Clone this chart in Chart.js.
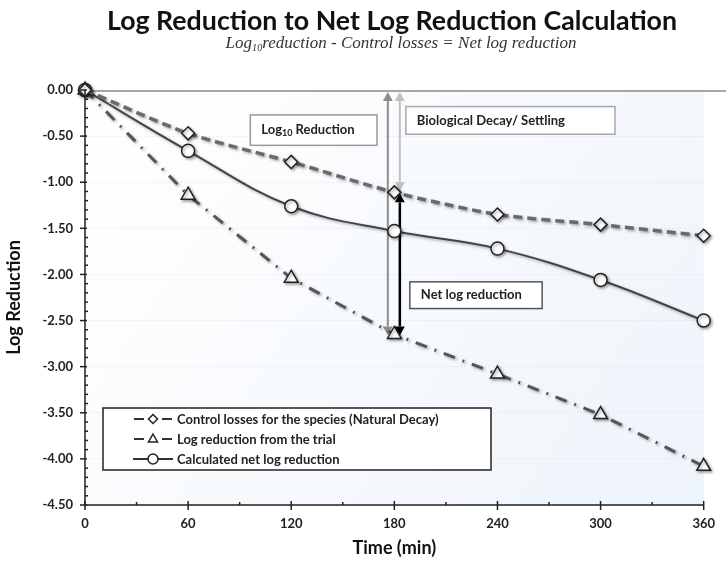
<!DOCTYPE html>
<html><head><meta charset="utf-8">
<script src="https://cdn.jsdelivr.net/npm/chart.js@4"></script>
<style>html,body{margin:0;padding:0;background:#fff}#wrap{width:726px;height:562px}</style>
</head><body><div id="wrap"><canvas id="c" width="726" height="562"></canvas></div>
<script>
// ---- data ----
const times = [0, 60, 120, 180, 240, 300, 360];
const controlLosses = [0, -0.47, -0.78, -1.11, -1.35, -1.46, -1.58];
const trialReduction = [0, -1.14, -2.04, -2.65, -3.08, -3.52, -4.08];
const netReduction = [0, -0.66, -1.26, -1.53, -1.72, -2.06, -2.50];
const xTickValues = [0, 60, 120, 180, 240, 300, 360];
const yTickValues = [0, -0.5, -1, -1.5, -2, -2.5, -3, -3.5, -4, -4.5];
const seriesLabels = ['Control losses for the species (Natural Decay)', 'Log reduction from the trial', 'Calculated net log reduction'];
const titleText = 'Log Reduction to Net Log Reduction Calculation';
const xTitle = 'Time (min)';
const yTitle = 'Log Reduction';

const FONT = 'Lato, "Open Sans", sans-serif';
const toPts = ys => times.map((t, i) => ({x: t, y: ys[i]}));

function fitFont(ctx, text, style, family, start, target) {
  let s = start;
  for (; s > 6; s -= 0.25) {
    ctx.font = style + ' ' + s + 'px ' + family;
    if (ctx.measureText(text).width <= target) break;
  }
  return ctx.font;
}

function arrow(ctx, x, y1, y2, color, w, head) {
  ctx.save();
  ctx.strokeStyle = color; ctx.fillStyle = color; ctx.lineWidth = w;
  ctx.beginPath(); ctx.moveTo(x, y1 + head); ctx.lineTo(x, y2 - head); ctx.stroke();
  ctx.beginPath(); ctx.moveTo(x, y1); ctx.lineTo(x - head * 0.55, y1 + head); ctx.lineTo(x + head * 0.55, y1 + head); ctx.closePath(); ctx.fill();
  ctx.beginPath(); ctx.moveTo(x, y2); ctx.lineTo(x - head * 0.55, y2 - head); ctx.lineTo(x + head * 0.55, y2 - head); ctx.closePath(); ctx.fill();
  ctx.restore();
}

function labelBox(ctx, xs, ys, x0, x1, y0, y1, border, parts) {
  const L = xs.getPixelForValue(x0), R = xs.getPixelForValue(x1);
  const T = ys.getPixelForValue(y0), B = ys.getPixelForValue(y1);
  ctx.save();
  ctx.fillStyle = '#fff'; ctx.fillRect(L, T, R - L, B - T);
  ctx.strokeStyle = border; ctx.lineWidth = 1.5; ctx.strokeRect(L, T, R - L, B - T);
  let cx = L + 11; const cy = (T + B) / 2;
  ctx.fillStyle = '#222'; ctx.textBaseline = 'middle'; ctx.textAlign = 'left';
  parts.forEach(p => {
    ctx.font = 'bold ' + (p.sub ? 9 : 13) + 'px ' + FONT;
    ctx.fillText(p.t, cx, cy + (p.sub ? 3 : 0));
    cx += ctx.measureText(p.t).width;
  });
  ctx.restore();
}

const decor = {
  id: 'decor',
  beforeDraw(chart) {
    const {ctx, chartArea: a} = chart;
    const g = ctx.createLinearGradient(a.left, a.top, a.right, a.bottom);
    g.addColorStop(0, '#ffffff'); g.addColorStop(1, '#eef4fb');
    ctx.save(); ctx.fillStyle = g; ctx.fillRect(a.left, a.top, a.right - a.left, a.bottom - a.top); ctx.restore();
  },
  beforeDatasetsDraw(chart) {
    const {ctx, chartArea: a} = chart;
    const xs = chart.scales.x, ys = chart.scales.y;
    // top frame line
    ctx.save(); ctx.strokeStyle = '#8a8a8a'; ctx.lineWidth = 1.5;
    ctx.beginPath(); ctx.moveTo(a.left, a.top + 1); ctx.lineTo(chart.width, a.top + 1); ctx.stroke(); ctx.restore();
    // arrows (in data units)
    const yTop = ys.getPixelForValue(0) + 2;
    arrow(ctx, xs.getPixelForValue(176.2), yTop, ys.getPixelForValue(trialReduction[3]) + 1, '#8c8c8c', 2, 9);
    arrow(ctx, xs.getPixelForValue(183.2), yTop, ys.getPixelForValue(controlLosses[3]) - 1, '#c0c0c0', 2, 9);
    // label boxes
    labelBox(ctx, xs, ys, 96.2, 169.9, -0.27, -0.60, '#9a9a9a', [{t: 'Log'}, {t: '10', sub: true}, {t: ' Reduction'}]);
    labelBox(ctx, xs, ys, 186.7, 308.4, -0.18, -0.48, '#a8a8a8', [{t: 'Biological Decay/ Settling'}]);
    labelBox(ctx, xs, ys, 189, 266, -2.08, -2.37, '#555', [{t: 'Net log reduction'}]);
    arrow(ctx, xs.getPixelForValue(183.2), ys.getPixelForValue(controlLosses[3]) + 1, ys.getPixelForValue(trialReduction[3]) + 1, '#000', 2.5, 9);
    ctx.save();
    ctx.shadowColor = 'rgba(0,0,0,0.35)'; ctx.shadowBlur = 3; ctx.shadowOffsetX = 1.5; ctx.shadowOffsetY = 1.5;
  },
  afterDatasetsDraw(chart) {
    chart.ctx.restore();
  },
  afterDraw(chart) {
    const {ctx, chartArea: a} = chart;
    const xs = chart.scales.x, ys = chart.scales.y;
    ctx.save();
    // axis lines
    ctx.strokeStyle = '#222'; ctx.lineWidth = 1.5; ctx.setLineDash([]);
    ctx.beginPath(); ctx.moveTo(a.left, a.top); ctx.lineTo(a.left, a.bottom); ctx.lineTo(a.right, a.bottom); ctx.stroke();
    // ticks
    for (let i = 0; i <= 45; i++) {
      const v = -i / 10, py = ys.getPixelForValue(v);
      ctx.beginPath();
      if (i % 5 === 0) { ctx.moveTo(a.left - 5, py); ctx.lineTo(a.left + 2, py); }
      else { ctx.moveTo(a.left, py); ctx.lineTo(a.left + 3, py); }
      ctx.stroke();
    }
    for (let t = 0; t <= 360; t += 30) {
      const px = xs.getPixelForValue(t);
      ctx.beginPath();
      if (t % 60 === 0) { ctx.moveTo(px, a.bottom - 4); ctx.lineTo(px, a.bottom + 5); }
      else { ctx.moveTo(px, a.bottom - 3); ctx.lineTo(px, a.bottom); }
      ctx.stroke();
    }
    // titles
    ctx.fillStyle = '#111'; ctx.textBaseline = 'middle'; ctx.textAlign = 'left';
    ctx.font = fitFont(ctx, titleText, 'bold', FONT, 30, 574);
    const tw = ctx.measureText(titleText).width;
    ctx.fillText(titleText, 392 - tw / 2, 21);
    // subtitle with subscript
    const serif = '"Liberation Serif", "DejaVu Serif", serif';
    const subParts = [{t: 'Log'}, {t: '10', sub: true}, {t: 'reduction - Control losses = Net log reduction'}];
    const sz = 17;
    let total = 0;
    subParts.forEach(p => { ctx.font = 'italic ' + (p.sub ? sz * 0.6 : sz) + 'px ' + serif; total += ctx.measureText(p.t).width; });
    let sx = 401 - total / 2;
    ctx.fillStyle = '#333';
    subParts.forEach(p => {
      ctx.font = 'italic ' + (p.sub ? sz * 0.6 : sz) + 'px ' + serif;
      ctx.fillText(p.t, sx, 44 + (p.sub ? 4 : 0));
      sx += ctx.measureText(p.t).width;
    });
    // legend
    const ds = chart.data.datasets;
    const L = 103, R = 491, T = 408, B = 470;
    ctx.fillStyle = '#fff'; ctx.fillRect(L, T, R - L, B - T);
    ctx.strokeStyle = '#222'; ctx.lineWidth = 1.5; ctx.strokeRect(L, T, R - L, B - T);
    ds.forEach((d, i) => {
      const cy = 419 + i * 20;
      ctx.strokeStyle = '#333'; ctx.lineWidth = 2;
      ctx.beginPath();
      if (d.legendSolid) { ctx.moveTo(133, cy); ctx.lineTo(173, cy); }
      else { ctx.moveTo(134, cy); ctx.lineTo(144, cy); ctx.moveTo(162, cy); ctx.lineTo(172, cy); }
      ctx.stroke();
      ctx.fillStyle = '#fff'; ctx.strokeStyle = '#222'; ctx.lineWidth = 1.5;
      ctx.beginPath();
      const r = d.legendRadius;
      if (d.pointStyle === 'rectRot') { ctx.moveTo(153, cy - r); ctx.lineTo(153 + r, cy); ctx.lineTo(153, cy + r); ctx.lineTo(153 - r, cy); ctx.closePath(); }
      else if (d.pointStyle === 'triangle') { ctx.moveTo(153, cy - r); ctx.lineTo(153 + r * 0.9, cy + r * 0.6); ctx.lineTo(153 - r * 0.9, cy + r * 0.6); ctx.closePath(); }
      else { ctx.arc(153, cy, r, 0, Math.PI * 2); }
      ctx.fill(); ctx.stroke();
      ctx.fillStyle = '#222'; ctx.font = 'bold 13px ' + FONT; ctx.textBaseline = 'middle';
      ctx.fillText(d.label, 177, cy + 1);
    });
    ctx.restore();
  }
};

new Chart(document.getElementById('c'), {
  type: 'line',
  data: {
    datasets: [
      {label: seriesLabels[0], data: toPts(controlLosses), borderColor: '#6a6a6a', borderWidth: 3.5, borderDash: [9, 5],
       tension: 0.25, clip: false, pointStyle: 'rectRot', pointRadius: 6.5, pointBackgroundColor: '#fff', pointBorderColor: '#222', pointBorderWidth: 1.5,
       legendSolid: false, legendRadius: 4.5},
      {label: seriesLabels[1], data: toPts(trialReduction), borderColor: '#555', borderWidth: 3, borderDash: [12, 8, 2, 8],
       tension: 0, clip: false, pointStyle: 'triangle', pointRadius: 8, pointBackgroundColor: '#fff', pointBorderColor: '#222', pointBorderWidth: 1.5,
       legendSolid: false, legendRadius: 5},
      {label: seriesLabels[2], data: toPts(netReduction), borderColor: '#444', borderWidth: 2, borderDash: [],
       tension: 0.4, clip: false, pointStyle: 'circle', pointRadius: 6.5, pointBackgroundColor: '#fff', pointBorderColor: '#222', pointBorderWidth: 1.5,
       legendSolid: true, legendRadius: 5}
    ]
  },
  options: {
    responsive: false, animation: false, devicePixelRatio: 1,
    layout: {padding: {top: 90, right: 20, left: 0, bottom: 0}},
    plugins: {legend: {display: false}, tooltip: {enabled: false}, title: {display: false}},
    scales: {
      x: {
        type: 'linear', min: 0, max: 360,
        afterBuildTicks: s => { s.ticks = xTickValues.map(v => ({value: v})); },
        afterFit: s => { s.height = 57; },
        grid: {display: false, drawTicks: false},
        border: {display: false},
        ticks: {padding: 11, color: '#222', font: {family: FONT, weight: 'bold', size: 13}, callback: v => String(v)},
        title: {display: true, text: xTitle, color: '#111', font: {family: FONT, weight: 'bold', size: 18}, padding: {top: 4, bottom: 3}}
      },
      y: {
        type: 'linear', min: -4.5, max: 0,
        afterBuildTicks: s => { s.ticks = yTickValues.map(v => ({value: v})); },
        afterFit: s => { s.width = 85; },
        grid: {drawTicks: false, color: 'rgba(190,200,215,0.6)', lineWidth: 1},
        border: {display: false, dash: [1, 3]},
        ticks: {padding: 12, color: '#222', font: {family: FONT, weight: 'bold', size: 13}, callback: v => Number(v).toFixed(2)},
        title: {display: true, text: yTitle, color: '#111', font: {family: FONT, weight: 'bold', size: 18}, padding: {top: 3, bottom: 4}}
      }
    }
  },
  plugins: [decor]
});
</script></body></html>
